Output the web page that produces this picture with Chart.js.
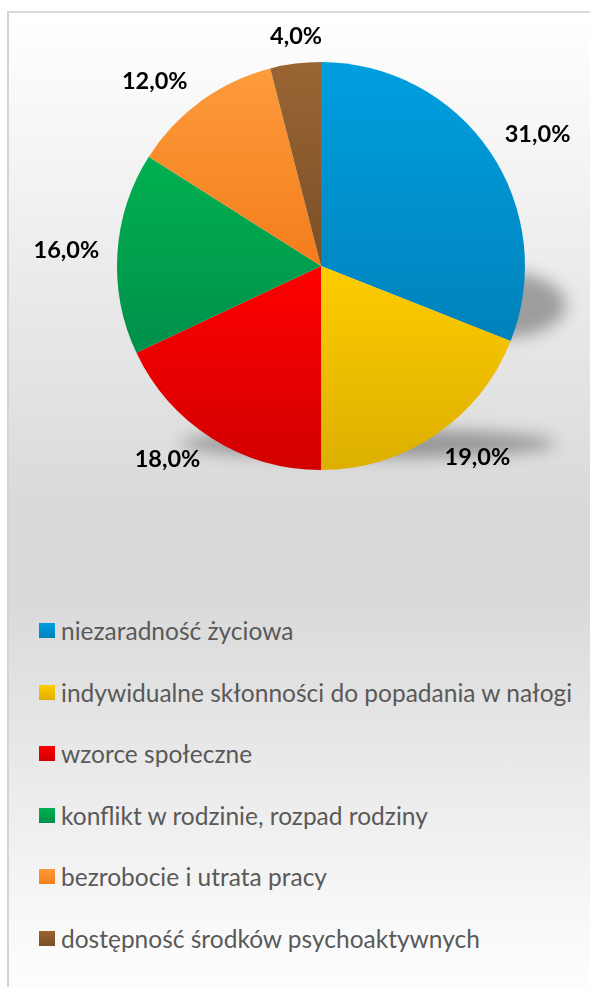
<!DOCTYPE html>
<html lang="pl">
<head>
<meta charset="utf-8">
<title>Przyczyny</title>
<script src="https://cdn.jsdelivr.net/npm/chart.js@4"></script>
<style>
  html, body { margin: 0; padding: 0; background: #ffffff; }
  body { width: 590px; height: 987px; position: relative; overflow: hidden; }
  .frame {
    position: absolute; left: 7px; top: 11px; width: 620px; height: 1000px;
    border-left: 2px solid #d4d4d4; border-top: 2px solid #dadada;
    background: linear-gradient(to bottom, #ffffff 0%, #d9d9d9 50%, #d9d9d9 58%, #fcfcfc 95%, #fdfdfd 100%);
  }
  .chart-box { position: absolute; left: 0; top: 0; width: 590px; height: 540px; }
  .legend { position: absolute; left: 39px; top: 600px; }
  .legend-item {
    height: 61.5px; display: flex; align-items: center;
    font-family: Lato, "Open Sans", sans-serif; font-size: 24.5px; color: #595959;
    white-space: nowrap;
  }
  .legend-box { width: 16px; height: 15px; margin-right: 6px; flex: none; }
</style>
</head>
<body>
<div class="frame"></div>
<div class="chart-box"><canvas id="pieChart"></canvas></div>
<div class="legend" id="legend"></div>

<script>
// ===============================
// Data
// ===============================
const categories = [
  "niezaradność życiowa",
  "indywidualne skłonności do popadania w nałogi",
  "wzorce społeczne",
  "konflikt w rodzinie, rozpad rodziny",
  "bezrobocie i utrata pracy",
  "dostępność środków psychoaktywnych"
];
const shares = [31, 19, 18, 16, 12, 4];

// slice colours, light at the top and darker at the bottom
const topColors = ["#009fe0", "#ffcc00", "#ff0000", "#00b050", "#fd9b3b", "#9a6534"];
const bottomColors = ["#0082bb", "#dcaf00", "#d20000", "#00904a", "#f47d1c", "#7b4f27"];

// small angle corrections for the outside labels (degrees)
const labelNudge = [3, -5, 6, 0, -6, 1];

function formatShare(v) {
  return v.toFixed(1).replace(".", ",") + "%";
}

// vertical extent of a slice, used for its own gradient
function sliceExtent(arc) {
  const { x, y, startAngle: a0, endAngle: a1, outerRadius: r } = arc.getProps(
    ["x", "y", "startAngle", "endAngle", "outerRadius"], true);
  let top = Math.min(y, y + r * Math.sin(a0), y + r * Math.sin(a1));
  let bottom = Math.max(y, y + r * Math.sin(a0), y + r * Math.sin(a1));
  const TAU = Math.PI * 2;
  const contains = (ang) => {
    let k = Math.ceil((a0 - ang) / TAU);
    return ang + k * TAU <= a1;
  };
  if (contains(Math.PI / 2)) bottom = y + r;
  if (contains(-Math.PI / 2)) top = y - r;
  return { top, bottom };
}

// ===============================
// Per-slice gradient fills
// ===============================
const sliceGradients = {
  id: "sliceGradients",
  beforeDatasetsDraw(chart) {
    const ctx = chart.ctx;
    chart.getDatasetMeta(0).data.forEach((arc, i) => {
      const ext = sliceExtent(arc);
      const g = ctx.createLinearGradient(0, ext.top, 0, ext.bottom);
      g.addColorStop(0, topColors[i]);
      g.addColorStop(1, bottomColors[i]);
      arc.options.backgroundColor = g;
    });
  }
};

// ===============================
// Soft shadow under the pie
// ===============================
const pieShadow = {
  id: "pieShadow",
  beforeDatasetsDraw(chart) {
    const arc = chart.getDatasetMeta(0).data[0];
    if (!arc) return;
    const cx = arc.x, cy = arc.y, R = arc.outerRadius;
    const ctx = chart.ctx;
    ctx.save();
    ctx.filter = "blur(8px)";
    ctx.fillStyle = "rgba(0,0,0,0.32)";
    // floor streak
    ctx.beginPath();
    ctx.ellipse(cx + 0.23 * R, cy + 0.87 * R, 0.92 * R, 0.07 * R, 0, 0, Math.PI * 2);
    ctx.fill();
    // right side blob
    ctx.beginPath();
    ctx.ellipse(cx + 0.9 * R, cy + 0.19 * R, 0.3 * R, 0.16 * R, 0, 0, Math.PI * 2);
    ctx.fill();
    ctx.restore();
  }
};

// ===============================
// Percentage labels outside the slices
// ===============================
const outsideLabels = {
  id: "outsideLabels",
  afterDatasetsDraw(chart) {
    const ctx = chart.ctx;
    const meta = chart.getDatasetMeta(0);
    ctx.save();
    ctx.font = "bold 23.5px Lato, 'Open Sans', sans-serif";
    ctx.fillStyle = "#000000";
    ctx.textAlign = "center";
    ctx.textBaseline = "middle";
    meta.data.forEach((arc, i) => {
      const text = formatShare(shares[i]);
      const mid = (arc.startAngle + arc.endAngle) / 2 + labelNudge[i] * Math.PI / 180;
      const dx = Math.cos(mid), dy = Math.sin(mid);
      const w = ctx.measureText(text).width;
      const h = 12;
      const dist = arc.outerRadius + 18 + Math.abs(dx) * w / 2 + Math.abs(dy) * h / 2;
      ctx.fillText(text, arc.x + dx * dist, arc.y + dy * dist);
    });
    ctx.restore();
  }
};

// ===============================
// Pie chart
// ===============================
const canvas = document.getElementById("pieChart");

new Chart(canvas, {
  type: "pie",
  data: {
    labels: categories,
    datasets: [{
      data: shares,
      backgroundColor: topColors,
      borderWidth: 0,
      hoverOffset: 0,
      offset: 0
    }]
  },
  options: {
    responsive: true,
    maintainAspectRatio: false,
    animation: false,
    events: [],
    layout: {
      padding: { left: 117, right: 65, top: 62, bottom: 70 }
    },
    plugins: {
      legend: { display: false },
      tooltip: { enabled: false }
    }
  },
  plugins: [pieShadow, sliceGradients, outsideLabels]
});

// ===============================
// Legend (one entry per line)
// ===============================
const legend = document.getElementById("legend");

categories.forEach((name, i) => {
  const item = document.createElement("div");
  item.className = "legend-item";
  const box = document.createElement("span");
  box.className = "legend-box";
  box.style.background = "linear-gradient(to bottom, " + topColors[i] + ", " + bottomColors[i] + ")";
  const label = document.createElement("span");
  label.textContent = name;
  item.appendChild(box);
  item.appendChild(label);
  legend.appendChild(item);
});
</script>
</body>
</html>
